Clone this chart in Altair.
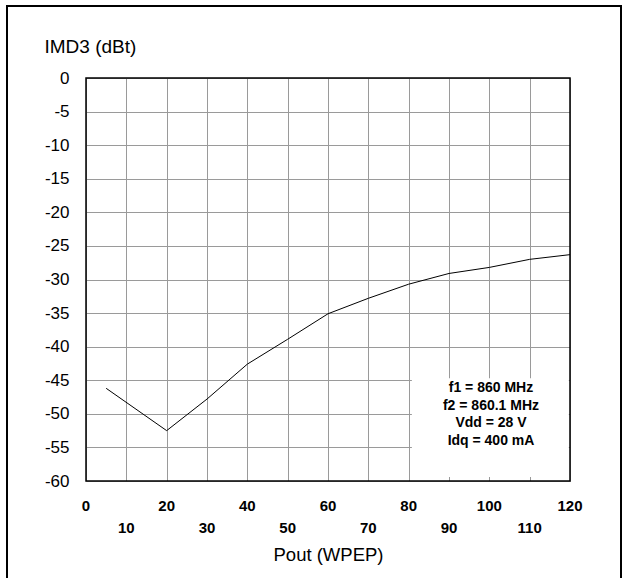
import altair as alt
import pandas as pd

# Data
pout = [5, 20, 30, 40, 50, 60, 70, 80, 90, 100, 110, 120]
imd3 = [-46.2, -52.5, -47.8, -42.6, -38.9, -35.1, -32.8, -30.7, -29.1, -28.2, -27.0, -26.3]

x_ticks = list(range(0, 130, 10))
x_row1 = [0, 20, 40, 60, 80, 100, 120]
x_row2 = [10, 30, 50, 70, 90, 110]
y_ticks = list(range(0, -65, -5))
note_lines = ["f1 = 860 MHz", "f2 = 860.1 MHz", "Vdd = 28 V", "Idq = 400 mA"]
note_box = {"x": [80.8], "x2": [119.7], "y": [-44.7], "y2": [-59.4]}

FONT = "Liberation Sans"
W, H = 484, 403

df = pd.DataFrame({"pout": pout, "imd3": imd3})

xscale = alt.Scale(domain=[0, 120], nice=False, zero=False)
yscale = alt.Scale(domain=[-60, 0], nice=False, zero=False)

xaxis = alt.Axis(
    values=x_ticks, labels=False, ticks=False, domain=False,
    grid=True, gridColor="#9a9a9a", gridWidth=1,
    title="Pout (WPEP)", titleFont=FONT, titleFontSize=18.5, titleFontWeight="normal",
    titleColor="black", titleBaseline="alphabetic", titleY=79,
)
yaxis = alt.Axis(
    values=y_ticks, ticks=False, domain=False,
    grid=True, gridColor="#9a9a9a", gridWidth=1,
    labelFont=FONT, labelFontSize=17, labelColor="black", labelPadding=17,
    labelOverlap=False,
    labelExpr="datum.value == 0 ? '0' : '-' + abs(datum.value)",
    title="IMD3 (dBt)", titleFont=FONT, titleFontSize=19, titleFontWeight="normal",
    titleColor="black", titleAngle=0, titleAlign="left", titleBaseline="alphabetic",
    titleX=-42, titleY=-26,
)

line = alt.Chart(df).mark_line(color="black", strokeWidth=1).encode(
    x=alt.X("pout:Q", scale=xscale, axis=xaxis, title="Pout (WPEP)"),
    y=alt.Y("imd3:Q", scale=yscale, axis=yaxis, title="IMD3 (dBt)"),
)

box = alt.Chart(pd.DataFrame(note_box)).mark_rect(fill="white", stroke=None).encode(
    x=alt.X("x:Q", scale=xscale, axis=xaxis, title="Pout (WPEP)"), x2="x2:Q",
    y=alt.Y("y:Q", scale=yscale, axis=yaxis, title="IMD3 (dBt)"), y2="y2:Q",
)

note = alt.Chart(pd.DataFrame({"a": [0]})).mark_text(
    text=note_lines, font=FONT, fontSize=14, fontWeight="bold", color="black",
    align="center", baseline="alphabetic", lineHeight=17.5,
).encode(x=alt.value(405), y=alt.value(314))

row1 = alt.Chart(pd.DataFrame({"v": x_row1})).mark_text(
    font=FONT, fontSize=15, fontWeight="bold", color="black", baseline="middle"
).encode(x=alt.X("v:Q", scale=xscale, axis=xaxis, title="Pout (WPEP)"),
         y=alt.value(428), text=alt.Text("v:Q"))

row2 = alt.Chart(pd.DataFrame({"v": x_row2})).mark_text(
    font=FONT, fontSize=15, fontWeight="bold", color="black", baseline="middle"
).encode(x=alt.X("v:Q", scale=xscale, axis=xaxis, title="Pout (WPEP)"),
         y=alt.value(450), text=alt.Text("v:Q"))

# Page frame (left, top, right)
fl, ft, fr, fb = -79, -72, 535, 520
frame_left = alt.Chart(pd.DataFrame({"a": [0]})).mark_rule(color="black", strokeWidth=2).encode(
    x=alt.value(fl), y=alt.value(ft), y2=alt.value(fb))
frame_right = alt.Chart(pd.DataFrame({"a": [0]})).mark_rule(color="black", strokeWidth=2).encode(
    x=alt.value(fr), y=alt.value(ft), y2=alt.value(fb))
frame_top = alt.Chart(pd.DataFrame({"a": [0]})).mark_rule(color="black", strokeWidth=2).encode(
    x=alt.value(fl - 1), x2=alt.value(fr + 1), y=alt.value(ft))

# Plot border drawn on top
border = alt.Chart(pd.DataFrame({"a": [0]})).mark_rect(
    fill=None, stroke="black", strokeWidth=1.5
).encode(x=alt.value(0), x2=alt.value(W), y=alt.value(0), y2=alt.value(H))

chart = alt.layer(
    line, box, note, row1, row2, border, frame_left, frame_right, frame_top
).properties(
    width=W, height=H,
    autosize=alt.AutoSizeParams(type="none"),
    padding={"left": 86, "top": 78, "right": 53, "bottom": 97},
    background="white",
).configure_view(stroke=None)

chart.save("out.html", embed_options={"renderer": "svg", "actions": False})
